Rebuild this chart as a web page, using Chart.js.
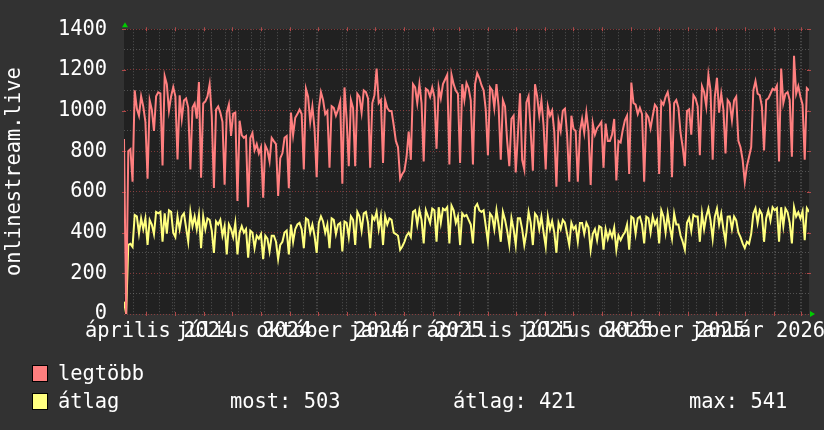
<!DOCTYPE html>
<html>
<head>
<meta charset="utf-8">
<script src="https://cdn.jsdelivr.net/npm/chart.js@4.4.1/dist/chart.umd.min.js"></script>
<style>
  html, body { margin: 0; padding: 0; background: #323232; }
  #wrap { width: 824px; height: 430px; }
</style>
</head>
<body>
<div id="wrap"><canvas id="chart" width="824" height="430"></canvas></div>
<script>
// time window of the graph (days counted from startDate)
const startDate = Date.UTC(2024, 2, 8);
const spanDays = 732;

// legtöbb (max), left to right
const maxSeries = [
  860, 0, 800, 810, 650, 1100, 1010, 975, 1070, 1020, 945, 665, 1050, 1005, 900, 1070, 1090, 1085, 730, 1170,
  1130, 1000, 1070, 1115, 1070, 760, 1075, 960, 1050, 1060, 1015, 710, 1015, 1035, 960, 1140, 670, 1035, 1045, 1070,
  1130, 975, 620, 1005, 1020, 990, 945, 635, 990, 1030, 875, 985,
  990, 556, 950, 880, 866, 875, 525, 866, 890, 805, 835, 790, 820, 572, 828, 805, 750, 866, 850, 835,
  580, 766, 790, 866, 875, 618, 990, 880, 965, 983, 1005, 983, 711, 1107, 1068, 944, 1021, 913, 672, 1005,
  1091, 1052, 983, 998, 719, 1021, 1013, 975, 1005, 1044, 641, 1114, 960, 727,
  1052, 1013, 727, 1083, 1068, 990, 1099, 1091, 1060, 719, 1037, 1076, 1207, 1037, 1052, 742, 1052, 1013, 998, 998,
  928, 851, 820, 665, 688, 704, 773, 897, 758, 1130, 1114, 1037, 1130, 1037, 750, 1107, 1099, 1068, 1114, 1068,
  812, 1114, 1060, 1130, 1153, 1176, 735, 1176, 1130, 1099, 1083, 742, 1130, 1052,
  1135, 1110, 1050, 735, 1130, 1184, 1160, 1125, 1100, 1005, 781, 1115, 1100, 1014, 1130, 1020, 758, 1050, 1020, 850,
  727, 960, 975, 696, 880, 1085, 758, 711, 1040, 1070, 897, 704, 1130, 1070, 975, 1050, 928, 711, 1020, 975,
  1000, 897, 626, 950, 900, 1000, 1010, 880, 650, 975, 910, 900, 650, 897,
  959, 890, 990, 897, 634, 936, 882, 913, 928, 944, 719, 936, 851, 851, 882, 959, 657, 851, 843, 905,
  952, 975, 688, 1138, 1037, 1029, 983, 1014, 983, 650, 983, 967, 913, 975, 1029, 1014, 688, 1045, 1029, 1068,
  1091, 1029, 673, 1037, 1052, 1014, 890, 820, 727, 998, 1006, 882, 1076, 1060,
  1021, 781, 1120, 1091, 1021, 1176, 1099, 758, 1068, 1161, 990, 1083, 1006, 789, 1052, 1037, 952, 1050, 1068, 851,
  820, 758, 650, 727, 773, 820, 1100, 1145, 1083, 1076, 1020, 804, 1052, 1060, 1083, 1107, 1100, 1122, 750, 1207,
  1037, 1083, 1091, 1052, 773, 1269, 1083, 1120, 1068, 1029, 758, 1110, 1099
];

// átlag (average)
const avgSeries = [
  60, 0, 340, 345, 330, 487, 480, 395, 470, 417, 470, 340, 463, 440, 393, 502, 495, 502, 355, 495,
  395, 510, 502, 400, 378, 480, 417, 480, 495, 425, 355, 502, 432, 480, 417, 487, 324, 480, 417, 470,
  463, 410, 300, 455, 440, 463, 385, 432, 293, 440, 417, 378,
  448, 293, 400, 432, 400, 417, 277, 410, 400, 324, 385, 370, 393, 270, 385, 370, 308, 385, 385, 355,
  270, 340, 355, 400, 410, 293, 440, 355, 417, 440, 448, 417, 324, 470, 463, 400, 440, 385, 300, 448,
  480, 455, 400, 440, 324, 470, 463, 393, 440, 448, 308, 455, 448, 378,
  480, 463, 340, 502, 480, 410, 495, 502, 448, 324, 480, 463, 502, 417, 480, 340, 480, 440, 470, 463,
  400, 393, 385, 316, 332, 355, 385, 400, 378, 502, 510, 440, 510, 463, 347, 510, 480, 448, 518, 510,
  355, 525, 448, 518, 510, 525, 347, 533, 510, 448, 480, 340, 495, 480,
  487, 463, 440, 347, 525, 541, 510, 502, 510, 432, 355, 494, 479, 417, 510, 440, 355, 502, 463, 409,
  339, 471, 417, 339, 471, 471, 417, 339, 401, 502, 448, 339, 494, 479, 417, 479, 401, 332, 479, 417,
  456, 401, 301, 448, 417, 463, 448, 394, 339, 448, 417, 432, 355, 448,
  448, 394, 448, 425, 316, 394, 417, 363, 432, 425, 316, 417, 370, 409, 378, 425, 316, 386, 363, 386,
  401, 440, 316, 479, 471, 394, 471, 479, 440, 347, 479, 471, 401, 479, 440, 463, 347, 510, 479, 401,
  494, 425, 370, 494, 440, 440, 386, 355, 316, 448, 471, 409, 487, 479,
  479, 355, 494, 417, 479, 518, 460, 370, 479, 518, 440, 494, 417, 355, 479, 480, 417, 479, 460, 401,
  378, 347, 324, 355, 345, 394, 494, 520, 448, 510, 490, 355, 471, 510, 460, 525, 510, 520, 355, 525,
  432, 518, 500, 448, 347, 525, 479, 500, 470, 505, 363, 520, 503
];

// x labels (month / year of each quarter start)
const labelMonths = [[2024, 3], [2024, 6], [2024, 9], [2025, 0], [2025, 3], [2025, 6], [2025, 9], [2026, 0]];
const xTickLabels = ['április 2024', 'július 2024', 'október 2024', 'január 2025',
  'április 2025', 'július 2025', 'október 2025', 'január 2026'];

const seriesNames = ['legtöbb', 'átlag'];
const avgStats = [['most', 503], ['átlag', 421], ['max', 541]];

const FONT = "'DejaVu Sans Mono', monospace";
const FONT_SIZE = 20.4;
const RED = '#ff7f7f';
const YELLOW = '#ffff7f';
const GRID_MINOR = 'rgba(150,150,150,0.42)';
const GRID_MAJOR = 'rgba(190,70,70,0.6)';
const TICK_MAJOR = '#b04a4a';

const dayOf = (y, m, d) => (Date.UTC(y, m, d) - startDate) / 864e5;

// grid / label positions on the time axis
const tickKind = new Map();
for (let d = 10; d <= spanDays; d += 14) tickKind.set(d, 'week');
const monthDays = [];
for (let y = 2024, m = 3; ; m++) {
  if (m > 11) { m = 0; y++; }
  const d = dayOf(y, m, 1);
  if (d > spanDays) break;
  monthDays.push(d);
  tickKind.set(d, 'month');
}
const labelAt = new Map();
labelMonths.forEach(([y, m], i) => {
  const d = dayOf(y, m, 1) + 13;
  tickKind.set(d, 'label');
  labelAt.set(d, xTickLabels[i]);
});
const xTicks = [...tickKind.keys()].sort((a, b) => a - b);

const step = spanDays / (maxSeries.length - 1);
const toPoints = (arr) => arr.map((v, i) => ({ x: i * step, y: v }));

const rrdPlugin = {
  id: 'rrd',
  beforeDraw(chart) {
    const { ctx, chartArea: a } = chart;
    ctx.save();
    ctx.fillStyle = '#323232';
    ctx.fillRect(0, 0, chart.width, chart.height);
    ctx.fillStyle = '#212121';
    ctx.fillRect(a.left, a.top, a.right - a.left, a.bottom - a.top);
    ctx.restore();
  },
  beforeDatasetsDraw(chart) {
    // short solid marks where the month grid meets the frame
    const { ctx, chartArea: a, scales } = chart;
    ctx.save();
    ctx.strokeStyle = TICK_MAJOR;
    ctx.lineWidth = 1;
    ctx.beginPath();
    monthDays.forEach((d) => {
      const x = Math.round(scales.x.getPixelForValue(d)) + 0.5;
      ctx.moveTo(x, a.top - 2); ctx.lineTo(x, a.top + 2);
      ctx.moveTo(x, a.bottom - 2); ctx.lineTo(x, a.bottom + 2);
    });
    [200, 400, 600, 800, 1000, 1200, 1400].forEach((v) => {
      const y = Math.round(scales.y.getPixelForValue(v)) + 0.5;
      ctx.moveTo(a.left - 2, y); ctx.lineTo(a.left + 2, y);
      ctx.moveTo(a.right - 2, y); ctx.lineTo(a.right + 2, y);
    });
    ctx.stroke();
    ctx.restore();
  },
  afterDraw(chart) {
    const { ctx, chartArea: a } = chart;
    ctx.save();
    // axis arrows
    ctx.fillStyle = '#00cc00';
    ctx.beginPath();
    ctx.moveTo(a.left - 2, a.top - 2);
    ctx.lineTo(a.left + 4, a.top - 2);
    ctx.lineTo(a.left + 1, a.top - 7);
    ctx.closePath();
    ctx.fill();
    ctx.beginPath();
    ctx.moveTo(a.right + 1, a.bottom - 3);
    ctx.lineTo(a.right + 1, a.bottom + 3);
    ctx.lineTo(a.right + 6, a.bottom);
    ctx.closePath();
    ctx.fill();

    // legend
    ctx.font = FONT_SIZE + 'px ' + FONT;
    ctx.textBaseline = 'alphabetic';
    const rows = [[RED, 366, 380], [YELLOW, 394, 408]];
    rows.forEach(([col, top, base], i) => {
      ctx.fillStyle = col;
      ctx.fillRect(33, top, 14, 15);
      ctx.strokeStyle = '#000';
      ctx.lineWidth = 1;
      ctx.strokeRect(32.5, top - 0.5, 15, 16);
      ctx.fillStyle = '#ffffff';
      ctx.fillText(seriesNames[i], 58, base);
    });
    const statX = [230, 453, 689];
    avgStats.forEach(([k, v], i) => ctx.fillText(k + ': ' + v, statX[i], 408));
    ctx.restore();
  }
};

new Chart(document.getElementById('chart'), {
  type: 'line',
  data: {
    datasets: [
      { label: seriesNames[0], data: toPoints(maxSeries), borderColor: RED, borderWidth: 2, pointRadius: 0, tension: 0 },
      { label: seriesNames[1], data: toPoints(avgSeries), borderColor: YELLOW, borderWidth: 2, pointRadius: 0, tension: 0 }
    ]
  },
  options: {
    responsive: false,
    devicePixelRatio: 1,
    animation: false,
    layout: { padding: { top: 15, right: 15, left: 0, bottom: 0 } },
    plugins: { legend: { display: false }, tooltip: { enabled: false } },
    scales: {
      x: {
        type: 'linear',
        min: 0,
        max: spanDays,
        afterBuildTicks: (s) => { s.ticks = xTicks.map((v) => ({ value: v })); },
        afterFit: (s) => { s.height = 116; },
        ticks: {
          autoSkip: false, maxRotation: 0, minRotation: 0, padding: 5,
          color: '#ffffff', font: { family: FONT, size: FONT_SIZE },
          callback: (v) => labelAt.get(v) || ''
        },
        grid: {
          drawTicks: false,
          color: (c) => {
            const k = tickKind.get(c.tick && c.tick.value);
            return k === 'label' ? 'transparent' : GRID_MINOR;
          }
        },
        border: { display: false, dash: [1, 2] }
      },
      y: {
        min: 0,
        max: 1400,
        afterFit: (s) => { s.width = 124; },
        ticks: {
          stepSize: 100, autoSkip: false, padding: 17,
          color: '#ffffff', font: { family: FONT, size: FONT_SIZE },
          callback: (v) => (v % 200 === 0 ? v : '')
        },
        grid: {
          drawTicks: false,
          color: (c) => (c.tick.value % 200 === 0 ? GRID_MAJOR : GRID_MINOR)
        },
        border: { display: false, dash: [1, 2] },
        title: {
          display: true, text: 'onlinestream.live', color: '#ffffff',
          font: { family: FONT, size: FONT_SIZE }, padding: { top: 2, bottom: 0 }
        }
      }
    }
  },
  plugins: [rrdPlugin]
});
</script>
</body>
</html>
